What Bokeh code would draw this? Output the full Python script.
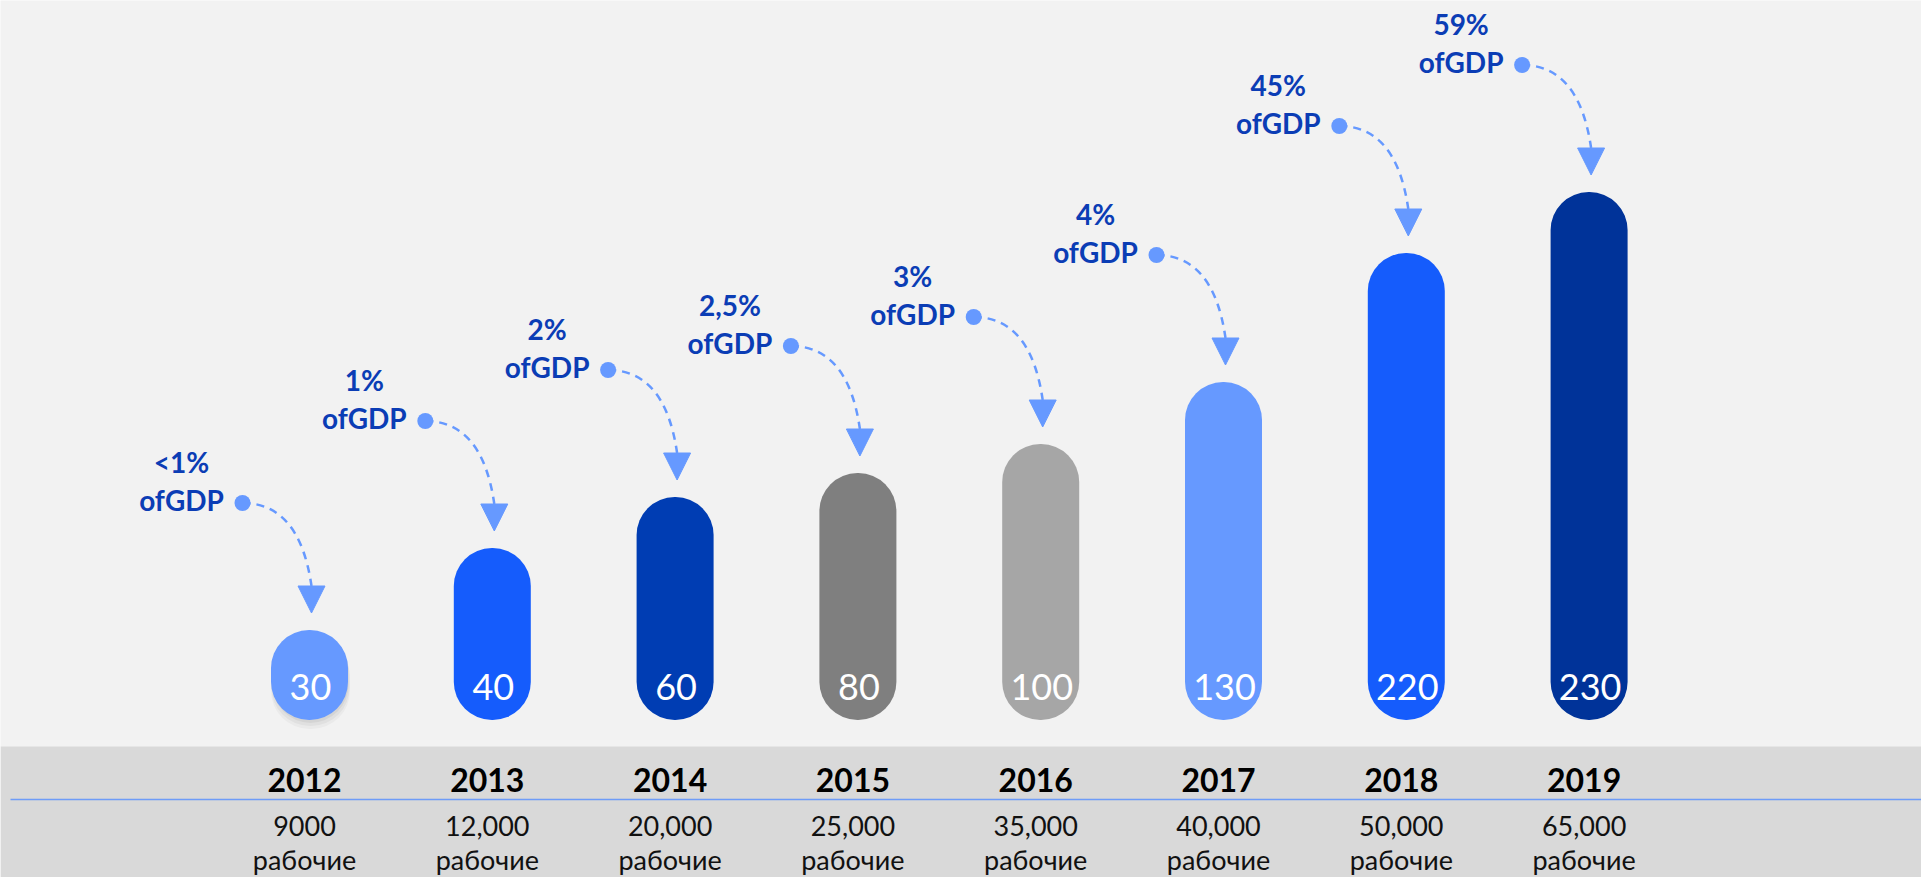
from bokeh.plotting import figure
from bokeh.models import Range1d, Arrow, NormalHead, ColumnDataSource, BoxAnnotation
from bokeh.core.properties import value
from bokeh.embed import file_html
from bokeh.resources import INLINE

# ---------------- data ----------------
years = [2012, 2013, 2014, 2015, 2016, 2017, 2018, 2019]
bar_values = [30, 40, 60, 80, 100, 130, 220, 230]
# drawn bar heights as they appear in the picture (not to scale with the labels)
bar_heights = [90, 172, 223, 247, 276, 338, 467, 528]
gdp_share = ["<1%", "1%", "2%", "2,5%", "3%", "4%", "45%", "59%"]
workers = ["9000", "12,000", "20,000", "25,000", "35,000", "40,000", "50,000", "65,000"]
workers_unit = "рабочие"
bar_colors = ["#6699ff", "#155cfc", "#003db3", "#7f7f7f",
              "#a6a6a6", "#6699ff", "#155cfc", "#003399"]

# ---------------- layout ----------------
W, H = 1921, 877
PX = 1 / 182.8            # x units (years) per pixel
X_LO = 2012 - 309 * PX
BASE = 719.5              # baseline position, px from top
Y_LO, Y_HI = -(H - BASE), BASE
T = 11                    # text baseline correction (px)

p = figure(width=W, height=H, x_range=Range1d(X_LO, X_LO + W * PX),
           y_range=Range1d(Y_LO, Y_HI), output_backend="svg",
           toolbar_location=None, min_border=0)
p.axis.visible = False
p.grid.visible = False
p.outline_line_color = None
p.background_fill_color = "#f2f2f2"
p.border_fill_color = "#f2f2f2"

# bottom band and separator line
p.add_layout(BoxAnnotation(top=-26.5, fill_color="#d9d9d9", fill_alpha=1,
                           line_color=None, level="underlay"))
p.segment(x0=[X_LO + 10 * PX], y0=[-79.5], x1=[X_LO + W * PX], y1=[-79.5],
          line_color="#6e9cf8", line_width=1.5)

# ---------------- bars ----------------
src = ColumnDataSource(dict(x=years, top=bar_heights, color=bar_colors,
                            label=[str(v) for v in bar_values]))
# soft shadow under the first (shortest) bar
for k, a in [(9, 0.03), (6, 0.04), (3, 0.05)]:
    p.vbar(x=[years[0] + 1 * PX], top=[bar_heights[0] - k], bottom=-k,
           width=(75 + k // 2) * PX, fill_color="#000000", fill_alpha=a,
           line_color=None, border_radius=38)
p.vbar(x="x", top="top", bottom=0, width=77 * PX, fill_color="color",
       line_color=None, border_radius=38, source=src)
p.text(x="x", y=22 + T, text="label", source=src, x_offset=1,
       text_align="center", text_baseline="alphabetic",
       text_font=value("Lato"), text_font_size="36px", text_color="white")

# ---------------- bottom labels ----------------
p.text(x=years, y=[-70.5 + T] * len(years), text=[str(y) for y in years], x_offset=-5,
       text_align="center", text_baseline="alphabetic",
       text_font=value("Lato"), text_font_style="bold",
       text_font_size="32px", text_color="#000000")
p.text(x=years, y=[-116.5 + T] * len(years), text=workers, x_offset=-5,
       text_align="center", text_baseline="alphabetic",
       text_font=value("Lato, Noto Sans"), text_font_size="27px",
       text_color="#111111")
p.text(x=years, y=[-150.5 + T] * len(years), text=[workers_unit] * len(years), x_offset=-5,
       text_align="center", text_baseline="alphabetic",
       text_font=value("Lato, Noto Sans"), text_font_size="27px",
       text_color="#111111")

# ---------------- GDP annotations ----------------
arrow_x = [y + 2 * PX for y in years]
tip_y = [h + 17 for h in bar_heights]
base_y = [t + 27 for t in tip_y]
dot_x = [ax - 69 * PX for ax in arrow_x]
dot_y = [t + 110 for t in tip_y]
txt_x = [dx - 61 * PX for dx in dot_x]

p.quadratic(x0=dot_x, y0=dot_y, x1=arrow_x, y1=base_y,
            cx=[ax - 12 * PX for ax in arrow_x], cy=dot_y,
            line_color="#6699ff", line_width=2.5, line_dash="8 6")
p.scatter(x=dot_x, y=dot_y, size=16, marker="circle",
          fill_color="#6699ff", line_color=None)
arrows = ColumnDataSource(dict(xs=arrow_x, ys=base_y, xe=arrow_x, ye=tip_y))
p.add_layout(Arrow(x_start="xs", y_start="ys", x_end="xe", y_end="ye", source=arrows,
                   line_alpha=0,
                   end=NormalHead(size=27, fill_color="#6699ff", line_color="#6699ff",
                                  line_width=1)))

p.text(x=txt_x, y=[t + 102 + T for t in tip_y], text=["ofGDP"] * len(years),
       text_align="center", text_baseline="alphabetic",
       text_font=value("Lato"), text_font_style="bold",
       text_font_size="28px", text_color="#0b3db5")
p.text(x=txt_x, y=[t + 140 + T for t in tip_y], text=gdp_share,
       text_align="center", text_baseline="alphabetic",
       text_font=value("Lato"), text_font_style="bold",
       text_font_size="28px", text_color="#0b3db5")

open("out.html", "w").write(file_html(p, INLINE))
